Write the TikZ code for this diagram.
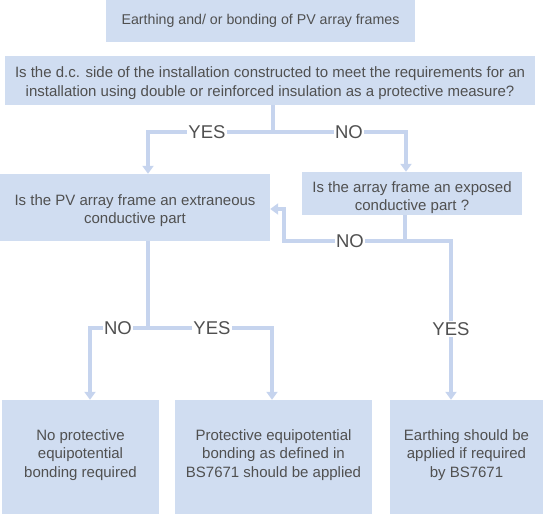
\documentclass[tikz,border=0pt]{standalone}
\usepackage{fontspec}
\setmainfont{Liberation Sans}
\usetikzlibrary{calc, arrows.meta}
\definecolor{boxblue}{RGB}{208,221,241}
\definecolor{lineblue}{RGB}{198,212,238}
\definecolor{textgray}{RGB}{80,80,80}
\def\boxfont{\fontsize{15}{18.8}\selectfont}
\def\titlefont{\fontsize{14.2}{18.8}\selectfont}
\def\labfont{\fontsize{18.5}{20}\selectfont}
% invisible struts to nudge the text of a box down (lift) or up (sink)
\def\lift#1{\rule{0pt}{#1pt}}
\def\sink#1{\rule[-#1pt]{0pt}{0pt}}

\begin{document}
\begin{tikzpicture}[x=1pt, y=-1pt, line cap=butt, line join=miter,
	box/.style={fill=boxblue, text=textgray, align=center, inner sep=0pt, font=\boxfont},
	link/.style={draw=lineblue, line width=3.5pt},
	arrow/.style={link, -{Triangle[width=11pt, length=8pt]}},
	answer/.style={fill=white, text=textgray, inner sep=1.5pt, font=\labfont}]
		
		\useasboundingbox (0,0) rectangle (543,517);
		
		%Boxes
		\node[box, font=\titlefont, minimum width=309pt, minimum height=42pt] (title) at (260.5,21) {Earthing and/ or bonding of PV array frames};
		\node[box, minimum width=530pt, minimum height=49pt] (double) at (270,80.5) {\lift{15.5}Is the d.c. side of the installation constructed to meet the requirements for an\\installation using double or reinforced insulation as a protective measure?};
		\node[box, minimum width=270pt, minimum height=67pt] (extraneous) at (135,207.5) {\lift{17}Is the PV array frame an extraneous\\conductive part};
		\node[box, minimum width=220pt, minimum height=43pt] (exposed) at (412,193.5) {\lift{19}Is the array frame an exposed\\conductive part ?};
		\node[box, minimum width=157pt, minimum height=114pt] (nobonding) at (80.5,457) {No protective\\equipotential\\bonding required\sink{7.2}};
		\node[box, minimum width=197pt, minimum height=114pt] (bonding) at (273.5,457) {Protective equipotential\\bonding as defined in\\BS7671 should be applied\sink{7.2}};
		\node[box, minimum width=153pt, minimum height=114pt] (earthing) at (466.5,457) {Earthing should be\\applied if required\\by BS7671\sink{7.2}};
		
		%Coordinates
		\coordinate (split1) at (273,132);
		\coordinate (yes1) at (148,132);
		\coordinate (no1) at (406,132);
		\coordinate (split2) at (405,241);
		\coordinate (no2) at (284,241);
		\coordinate (yes2) at (451,241);
		\coordinate (split3) at (148,328);
		\coordinate (no3) at (90,328);
		\coordinate (yes3) at (272,328);
		
		%Lines
		\draw[link] (double.south -| split1) -- (split1);
		\draw[arrow] (split1) -- (yes1) -- (yes1 |- extraneous.north);
		\draw[arrow] (split1) -- (no1) -- (no1 |- exposed.north);
		\draw[link] (exposed.south -| split2) -- (split2);
		\draw[arrow] (split2) -- (no2) -- ($(no2)+(0,-32)$) -- ($(extraneous.east)+(0,1.5)$);
		\draw[arrow] (split2) -- (yes2) -- (yes2 |- earthing.north);
		\draw[link] (extraneous.south -| split3) -- (split3);
		\draw[arrow] (split3) -- (no3) -- (no3 |- nobonding.north);
		\draw[arrow] (split3) -- (yes3) -- (yes3 |- bonding.north);
		
		%Answers
		\node[answer] (yeslab1) at (207,132) {YES};
		\node[answer] (nolab1) at (349,132) {NO};
		\node[answer] (nolab2) at (350,241) {NO};
		\node[answer] (yeslab2) at (451,329) {YES};
		\node[answer] (nolab3) at (118,328) {NO};
		\node[answer] (yeslab3) at (212,328) {YES};
		
	\end{tikzpicture}
\end{document}
